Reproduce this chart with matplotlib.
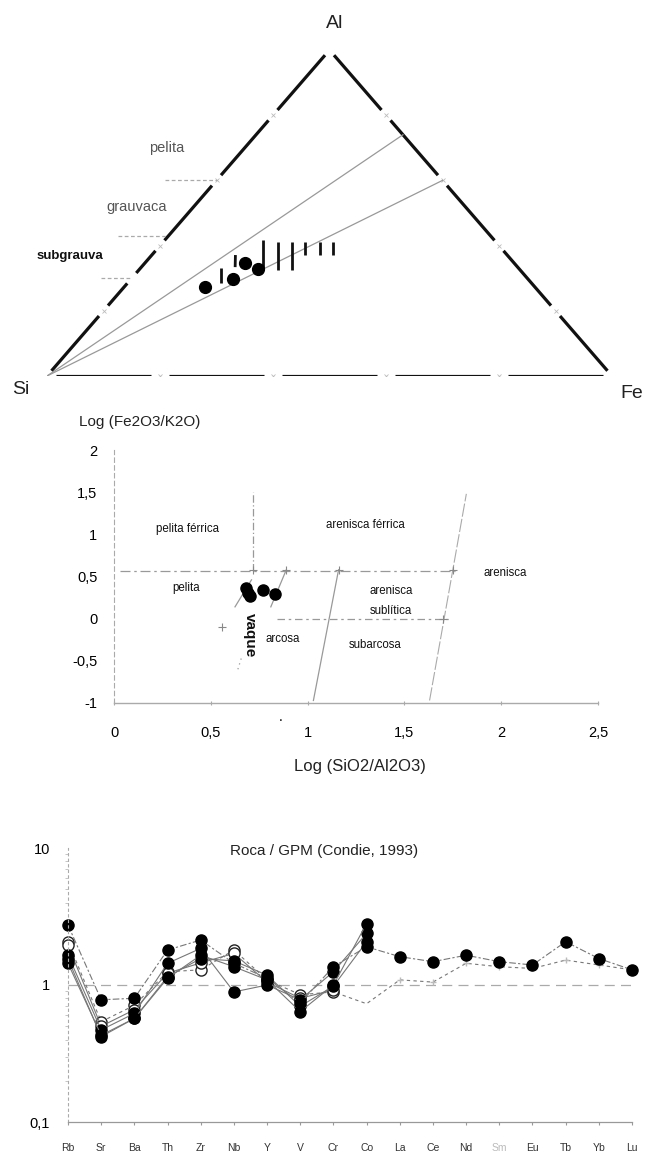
import numpy as np
import matplotlib
matplotlib.use("Agg")
import matplotlib.pyplot as plt
from matplotlib.ticker import FixedLocator, NullFormatter

plt.rcParams['font.family'] = ['Liberation Sans', 'DejaVu Sans']

W, H = 646, 1155

# ---------------- data: ternary Si-Al-Fe ----------------
tern_vertices = ["Si", "Al", "Fe"]
dot_si = [58.4, 52.2, 47.6, 46.3]
dot_al = [27.3, 29.8, 34.7, 32.8]
dot_fe = [14.3, 18.0, 17.7, 20.9]
bar_al_lo = [28.5, 33.4, 32.5, 32.5, 32.5, 37.1, 37.1, 37.1]
bar_al_hi = [33.1, 37.1, 41.7, 41.1, 41.1, 41.1, 41.1, 41.1]
bar_fe_lo = [16.6, 16.6, 22.0, 24.7, 27.2, 27.2, 29.8, 32.1]
bar_fe_hi = [14.3, 14.8, 17.4, 20.4, 22.9, 25.2, 27.8, 30.1]
ray_end_al = [74.0, 60.0]          # rays from Si to the Al-Fe edge
ray_end_fe = [26.0, 40.0]
field_names = ["pelita", "grauvaca", "subgrauva"]
field_al = [60.0, 43.0, 30.0]       # level of the field boundaries
field_start_x = [0.209, 0.126, 0.096]

# ---------------- data: Herron diagram ----------------
herron_x = [0.68, 0.69, 0.70, 0.77, 0.83]
herron_y = [0.36, 0.31, 0.27, 0.34, 0.29]
bound_h1 = ([0.03, 1.76], [0.57, 0.57])
bound_v1 = ([0.72, 0.72], [0.57, 1.50])
bound_s1 = ([0.625, 0.71], [0.14, 0.46])
bound_s1b = ([0.64, 0.66], [-0.60, -0.45])
bound_s2 = ([0.81, 0.89], [0.14, 0.58])
bound_h2 = ([0.84, 1.73], [0.0, 0.0])
bound_s3 = ([1.03, 1.16], [-0.97, 0.58])
bound_s4 = ([1.63, 1.82], [-0.97, 1.48])
cross_x = [0.72, 0.89, 1.16, 1.75, 1.70, 0.56]
cross_y = [0.58, 0.58, 0.58, 0.58, 0.0, -0.10]
herron_labels = ["pelita férrica", "arenisca férrica", "arenisca", "pelita",
                 "arenisca", "sublítica", "arcosa", "subarcosa"]
herron_lab_x = [0.38, 1.30, 2.02, 0.37, 1.43, 1.43, 0.87, 1.35]
herron_lab_y = [1.06, 1.11, 0.54, 0.36, 0.33, 0.09, -0.24, -0.31]
herron_xticks = [0, 0.5, 1, 1.5, 2, 2.5]
herron_xticklabels = ["0", "0,5", "1", "1,5", "2", "2,5"]
herron_yticks = [-1, -0.5, 0, 0.5, 1, 1.5, 2]
herron_yticklabels = ["-1", "-0,5", "0", "0,5", "1", "1,5", "2"]

# ---------------- data: spider diagram ----------------
elements = ["Rb", "Sr", "Ba", "Th", "Zr", "Nb", "Y", "V", "Cr", "Co",
            "La", "Ce", "Nd", "Sm", "Eu", "Tb", "Yb", "Lu"]
nan = np.nan
s1 = [2.74, 0.78, 0.80, 1.80, 2.13, 1.44, 1.12, 0.74, 1.36, 1.90,
      1.61, 1.48, 1.65, 1.48, 1.40, 2.07, 1.56, 1.29]
s2 = [1.44, 0.43, 0.57, 1.12, 1.65, 1.36, 1.09, 0.64, 1.00, 2.81] + [nan] * 8
s3 = [1.65, 0.47, 0.62, 1.44, 1.85, 0.89, 1.00, 0.78, 1.25, 2.38] + [nan] * 8
s4 = [1.55, 0.42, 0.57, 1.15, 1.56, 1.50, 1.18, 0.70, 0.98, 2.07] + [nan] * 8
s5 = [2.07, 0.54, 0.71, 1.25, 1.29, 1.80, 1.09, 0.85, 0.89, 0.73,
      1.09, 1.05, 1.44, 1.36, 1.32, 1.52, 1.40, 1.29]
s6 = [1.95, 0.50, 0.66, 1.22, 1.45, 1.70, 1.05, 0.80, 0.92] + [nan] * 9
ref_level = 1.0

fig = plt.figure(figsize=(W / 100, H / 100), dpi=100)


def box(l, t, r, b):
    return [l / W, 1 - b / H, (r - l) / W, (b - t) / H]


def ftext(x, y, s, **kw):
    fig.text(x / W, 1 - y / H, s, **kw)


# ================= Ternary =================
ax1 = fig.add_axes(box(47, 50, 612, 376))
ax1.set_xlim(0, 1)
ax1.set_ylim(0, 1)
ax1.axis("off")


def tern(si, al, fe):
    si, al, fe = (np.asarray(v, float) for v in (si, al, fe))
    s = si + al + fe
    al = al / s
    fe = fe / s
    return fe + al / 2, al


V = {"Si": np.array(tern(1, 0, 0)), "Al": np.array(tern(0, 1, 0)),
     "Fe": np.array(tern(0, 0, 1))}
edges = [("Si", "Al", [0.3]), ("Al", "Fe", []), ("Si", "Fe", [])]
g = 0.016
grid = np.arange(0, 1.0001, 0.2)
for a, b, extra in edges:
    A, B = V[a], V[b]
    cuts = sorted(set(list(grid) + extra))
    for t0, t1 in zip(cuts[:-1], cuts[1:]):
        p0 = A + (t0 + g) * (B - A)
        p1 = A + (t1 - g) * (B - A)
        ax1.plot([p0[0], p1[0]], [p0[1], p1[1]], color="#111", lw=2.3,
                 solid_capstyle="butt")
    for t in grid[1:-1]:
        p = A + t * (B - A)
        ax1.plot(p[0], p[1], marker="x", ms=3, color="#bbb", mew=0.6)

# rays from Si
for al_e, fe_e in zip(ray_end_al, ray_end_fe):
    x, y = tern(100 - al_e - fe_e, al_e, fe_e)
    ax1.plot([0, x], [0, y], color="#999", lw=0.9)

# field boundary ticks
for al_l, xs in zip(field_al, field_start_x):
    y = al_l / 100
    ax1.plot([xs, y / 2], [y, y], color="#aaa", lw=0.9, ls=(0, (3, 2)))

# bars
for alo, ahi, flo, fhi in zip(bar_al_lo, bar_al_hi, bar_fe_lo, bar_fe_hi):
    x0, y0 = tern(100 - alo - flo, alo, flo)
    x1, y1 = tern(100 - ahi - fhi, ahi, fhi)
    ax1.plot([x0, x1], [y0, y1], color="#111", lw=2.0, solid_capstyle="butt")

dx, dy = tern(dot_si, dot_al, dot_fe)
ax1.plot(dx, dy, "o", color="black", ms=8.5, ls="none")

ftext(335, 24, "Al", fontsize=14, ha="center", va="center", color="#222")
ftext(21, 390, "Si", fontsize=14, ha="center", va="center", color="#222")
ftext(632, 393, "Fe", fontsize=14, ha="center", va="center", color="#222")
ftext(167, 148, "pelita", fontsize=10.5, ha="center", va="center", color="#555")
ftext(137, 207, "grauvaca", fontsize=10.5, ha="center", va="center", color="#555")
ftext(70, 256, "subgrauva", fontsize=9.5, ha="center", va="center",
      color="#111", fontweight="bold")

# ================= Herron diagram =================
ax2 = fig.add_axes(box(114, 450, 598, 703))
ax2.set_xlim(0, 2.5)
ax2.set_ylim(-1, 2)
for sp in ["top", "right"]:
    ax2.spines[sp].set_visible(False)
ax2.spines["left"].set_color("#aaa")
ax2.spines["left"].set_linestyle((0, (4, 3)))
ax2.spines["left"].set_linewidth(0.8)
ax2.spines["bottom"].set_color("#aaa")
ax2.spines["bottom"].set_linewidth(1.0)
ax2.set_xticks(herron_xticks)
ax2.set_xticklabels(herron_xticklabels)
ax2.set_yticks(herron_yticks)
ax2.set_yticklabels(herron_yticklabels)
ax2.tick_params(axis="x", length=3, color="#aaa", pad=15, labelsize=10.5,
                direction="inout")
ax2.tick_params(axis="y", length=0, pad=12, labelsize=10.5)

bstyle = dict(color="#999", lw=0.9)
ax2.plot(*bound_h1, ls=(0, (8, 3, 2, 3)), **bstyle)
ax2.plot(*bound_v1, ls=(0, (6, 2, 1, 2)), **bstyle)
ax2.plot(*bound_s1, ls="-", **bstyle)
ax2.plot(*bound_s1b, ls=(0, (1, 3)), **bstyle)
ax2.plot(*bound_s2, ls="-", **bstyle)
ax2.plot(*bound_h2, ls=(0, (6, 3, 2, 3)), **bstyle)
ax2.plot(*bound_s3, ls="-", **bstyle)
ax2.plot(*bound_s4, ls=(0, (12, 2)), color="#aaa", lw=0.8)
ax2.plot(cross_x, cross_y, "+", color="#888", ms=6, mew=0.8, ls="none")

for s, x, y in zip(herron_labels, herron_lab_x, herron_lab_y):
    ax2.text(x, y, s, fontsize=8.3, ha="center", va="center", color="#111")
ax2.text(0.70, -0.19, "vaque", fontsize=11, fontweight="bold", rotation=270,
         ha="center", va="center", color="#111")
ax2.plot(herron_x, herron_y, "o", color="black", ms=8, ls="none")
ax2.text(0.86, -1.17, ".", fontsize=10, ha="center", va="center",
         clip_on=False)

ftext(140, 422, "Log (Fe2O3/K2O)", fontsize=11, ha="center", va="center",
      color="#222")
ftext(360, 766, "Log (SiO2/Al2O3)", fontsize=12, ha="center", va="center",
      color="#222")

# ================= Spider diagram =================
ax3 = fig.add_axes(box(68, 848, 632, 1122))
ax3.set_yscale("log")
ax3.set_ylim(0.1, 10)
xi = np.arange(len(elements))
ax3.set_xlim(0, len(elements) - 1)
for sp in ["top", "right"]:
    ax3.spines[sp].set_visible(False)
ax3.spines["left"].set_color("#aaa")
ax3.spines["left"].set_linestyle((0, (2, 3)))
ax3.spines["left"].set_linewidth(0.8)
ax3.spines["bottom"].set_color("#999")
ax3.spines["bottom"].set_linewidth(0.9)
ax3.set_xticks(xi)
ax3.set_xticklabels(elements)
for lab in ax3.get_xticklabels():
    lab.set_color("#bbb" if lab.get_text() == "Sm" else "#333")
ax3.yaxis.set_major_locator(FixedLocator([0.1, 1, 10]))
ax3.set_yticklabels(["0,1", "1", "10"])
ax3.yaxis.set_minor_formatter(NullFormatter())
ax3.tick_params(axis="x", length=2, color="#999", pad=13, labelsize=7.5)
ax3.tick_params(axis="y", which="major", length=0, pad=13, labelsize=10.5)
ax3.tick_params(axis="y", which="minor", length=2, color="#bbb")

ax3.plot([0, len(elements) - 1], [ref_level, ref_level], color="#aaa", lw=0.9,
         ls=(0, (8, 5)))

line_kw = dict(lw=0.8, color="#777", ms=8, clip_on=False)
ax3.plot(xi, s5, ls=(0, (3, 3)), marker="o", mfc="white", mec="#222",
         markevery=list(range(9)), **line_kw)
ax3.plot(xi[10:], s5[10:], ls="none", marker="+", color="#bbb", ms=4,
         clip_on=False)
ax3.plot(xi, s6, ls="-", marker="o", mfc="white", mec="#222", **line_kw)
ax3.plot(xi, s4, ls="-", marker="o", mfc="black", mec="black", **line_kw)
ax3.plot(xi, s3, ls="-", marker="o", mfc="black", mec="black", **line_kw)
ax3.plot(xi, s2, ls="-", marker="o", mfc="black", mec="black", **line_kw)
ax3.plot(xi, s1, ls=(0, (6, 2, 2, 2)), marker="o", mfc="black", mec="black",
         **line_kw)

ftext(324, 851, "Roca / GPM (Condie, 1993)", fontsize=11, ha="center",
      va="center", color="#222")

fig.savefig("out.png", dpi=100)
